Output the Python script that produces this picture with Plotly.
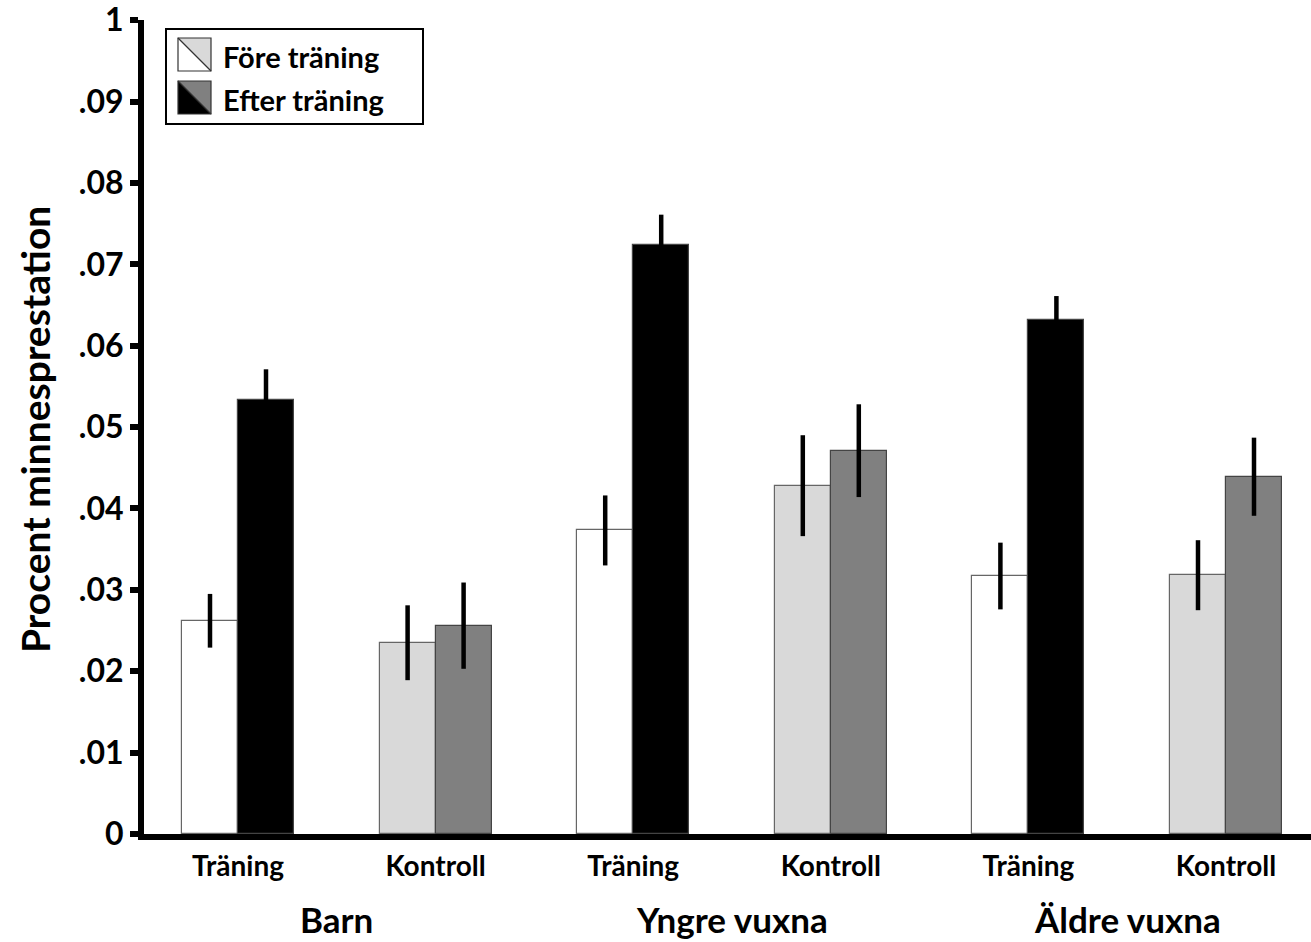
import plotly.graph_objects as go

# ---- data ----
groups = ["Barn", "Yngre vuxna", "Äldre vuxna"]
conditions = ["Träning", "Kontroll", "Träning", "Kontroll", "Träning", "Kontroll"]
fore = [0.0262, 0.0235, 0.0373, 0.0428, 0.0317, 0.0318]
fore_err = [0.0033, 0.0046, 0.0043, 0.0062, 0.0041, 0.0043]
efter = [0.0533, 0.0256, 0.0724, 0.0471, 0.0631, 0.0439]
efter_err = [0.0038, 0.0053, 0.0037, 0.0057, 0.0030, 0.0048]
ytick_vals = [0, 0.01, 0.02, 0.03, 0.04, 0.05, 0.06, 0.07, 0.08, 0.09, 0.1]
ytick_text = ["0", ".01", ".02", ".03", ".04", ".05", ".06", ".07", ".08", ".09", "1"]
legend_labels = ["Före träning", "Efter träning"]

fore_colors = ["#ffffff" if c == "Träning" else "#d9d9d9" for c in conditions]
efter_colors = ["#000000" if c == "Träning" else "#808080" for c in conditions]

FONT = "Lato"
W, H = 1311, 942
ML, MR, MT, MB = 144, 0, 20, 108
BW = 0.2834
xpos = list(range(len(conditions)))

fig = go.Figure()
fig.add_trace(go.Bar(
    x=xpos, y=fore, width=BW, offset=-BW,
    marker=dict(color=fore_colors, line=dict(color="#666666", width=1.2)),
    error_y=dict(type="data", array=fore_err, visible=True, color="black", thickness=4.5, width=0),
    name=legend_labels[0], showlegend=False,
))
fig.add_trace(go.Bar(
    x=xpos, y=efter, width=BW, offset=0,
    marker=dict(color=efter_colors, line=dict(color="#444444", width=1.2)),
    error_y=dict(type="data", array=efter_err, visible=True, color="black", thickness=4.5, width=0),
    name=legend_labels[1], showlegend=False,
))

pw = W - ML - MR
ph = H - MT - MB
def px(xp):
    return (xp - ML) / pw
def py(yp):
    return (H - MB - yp) / ph

shapes = []
# legend box
shapes.append(dict(type="rect", xref="paper", yref="paper",
                   x0=px(166), x1=px(423), y0=py(124), y1=py(29),
                   line=dict(color="black", width=2), fillcolor="white", layer="above"))
# swatches
sw = [((38, 71), "#ffffff", "#d9d9d9"), ((81, 114), "#000000", "#808080")]
for (yt, yb), lower, upper in sw:
    x0, x1 = px(178), px(211)
    y0, y1 = py(yb), py(yt)
    shapes.append(dict(type="path", xref="paper", yref="paper",
                       path=f"M{x0},{y1} L{x1},{y1} L{x1},{y0} Z",
                       fillcolor=upper, line=dict(width=0), layer="above"))
    shapes.append(dict(type="path", xref="paper", yref="paper",
                       path=f"M{x0},{y1} L{x0},{y0} L{x1},{y0} Z",
                       fillcolor=lower, line=dict(width=0), layer="above"))
    shapes.append(dict(type="rect", xref="paper", yref="paper",
                       x0=x0, x1=x1, y0=y0, y1=y1,
                       line=dict(color="#333333", width=1.2), layer="above"))
    shapes.append(dict(type="line", xref="paper", yref="paper",
                       x0=x0, y0=y1, x1=x1, y1=y0,
                       line=dict(color="#333333", width=1.2), layer="above"))

annotations = []
for lab, yc in zip(legend_labels, [57, 99]):
    annotations.append(dict(xref="paper", yref="paper", x=px(221), y=py(yc),
                            text=f"<b>{lab}</b>", showarrow=False, xanchor="left", yanchor="middle",
                            font=dict(family=FONT, size=29, color="black")))
# group labels
for i, g in enumerate(groups):
    annotations.append(dict(xref="x", yref="paper", x=2 * i + 0.5, y=py(919),
                            text=f"<b>{g}</b>", showarrow=False, xanchor="center", yanchor="middle",
                            font=dict(family=FONT, size=35, color="black")))
# y title
annotations.append(dict(xref="paper", yref="paper", x=px(35), y=py(430),
                        text="<b>Procent minnesprestation</b>", showarrow=False, textangle=-90,
                        xanchor="center", yanchor="middle",
                        font=dict(family=FONT, size=39, color="black")))

fig.update_layout(
    width=W, height=H,
    margin=dict(l=ML, r=MR, t=MT, b=MB, pad=0, autoexpand=False),
    plot_bgcolor="white", paper_bgcolor="white",
    bargap=0, barmode="overlay",
    shapes=shapes, annotations=annotations,
    font=dict(family=FONT, color="black"),
)
fig.update_xaxes(
    range=[(ML - 238) / 197.6, (W - 238) / 197.6],
    tickvals=xpos, ticktext=[f"<b>{c}</b>" for c in conditions],
    tickfont=dict(family=FONT, size=28, color="black"),
    showline=True, linewidth=6, linecolor="black",
    ticks="", showgrid=False, zeroline=False, ticklabelstandoff=2, automargin=False,
)
fig.update_yaxes(
    range=[0, 0.10002],
    tickvals=ytick_vals, ticktext=[f"<b>{t}</b>" for t in ytick_text],
    tickfont=dict(family=FONT, size=32, color="black"),
    showline=True, linewidth=6, linecolor="black",
    ticks="outside", ticklen=8, tickwidth=6, tickcolor="black",
    showgrid=False, zeroline=False, ticklabeloverflow="allow", automargin=False,
)

fig.write_html("out.html")
